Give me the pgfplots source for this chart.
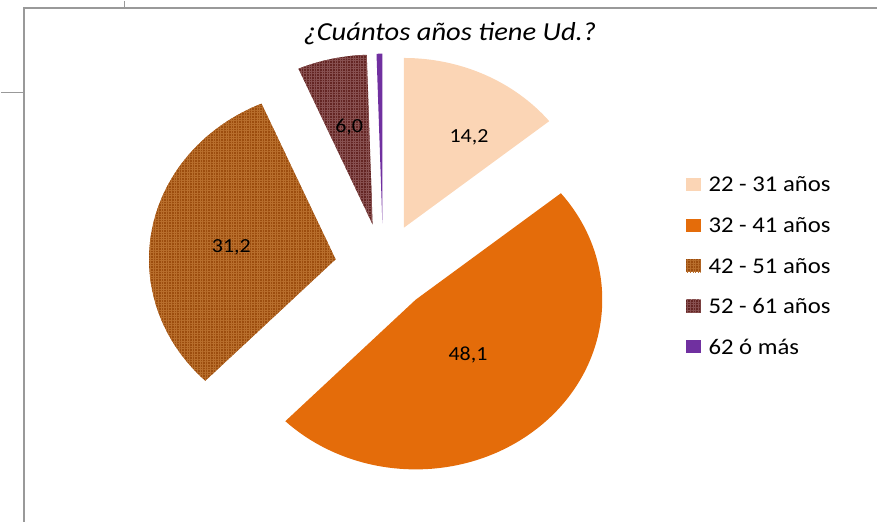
\documentclass[border=0pt]{standalone}
\usepackage{fontspec}
\setmainfont{Carlito}
\usepackage{graphicx}
\usepackage{pgfplots}
\usepackage{pgfplotstable}
\pgfplotsset{compat=1.18}
\usetikzlibrary{patterns.meta}

\definecolor{slA}{HTML}{FBD5B5}
\definecolor{slB}{HTML}{E46C0A}
\definecolor{slC}{HTML}{9C4D0E}
\definecolor{slD}{HTML}{632523}
\definecolor{slE}{HTML}{7030A0}
\definecolor{patC}{HTML}{B86E2C}
\definecolor{patD}{HTML}{875050}
\definecolor{framegray}{HTML}{999999}

% share of respondents by age band (percent); lx/ly = label position
\pgfplotstableread[col sep=semicolon]{
name;value;fc;pc;lx;ly;show
22 - 31 años;14.2;slA;none;426.4;385;1
32 - 41 años;48.1;slB;none;425.5;167;1
42 - 51 años;31.2;slC;patC;210;275;1
52 - 61 años;6.0;slD;patD;317.3;395;1
62 ó más;0.5;slE;none;0;0;0
}\agedata

% pie layout (axis units = bp)
\def\cx{348.2}\def\cy{255}\def\R{170}\def\dd{44}
\def\nonestr{none}

\begin{document}
\scalebox{1.1}[1]{%
\begin{tikzpicture}
\begin{axis}[x=1bp, y=1bp, xmin=0, xmax=798.2, ymin=0, ymax=522,
  hide axis, clip=false, scale only axis]
\path (axis cs:0,0) rectangle (axis cs:798.2,522);

% frame lines
\draw[framegray, line width=1.6bp] (axis cs:20.9,0) -- (axis cs:20.9,515) -- (axis cs:798.2,515);
\draw[framegray, line width=1.6bp] (axis cs:112.7,515) -- (axis cs:112.7,522);
\draw[framegray, line width=1.6bp] (axis cs:0,430) -- (axis cs:20.9,430);

\node[font=\fontsize{26bp}{30bp}\selectfont\itshape] at (axis cs:409,489) {¿Cuántos años tiene Ud.?};

\pgfplotstablegetrowsof{\agedata}
\pgfmathtruncatemacro\lastrow{\pgfplotsretval-1}
\def\angA{90}
\pgfplotsforeachungrouped \i in {0,...,\lastrow}{%
  \pgfplotstablegetelem{\i}{value}\of\agedata \edef\val{\pgfplotsretval}%
  \pgfplotstablegetelem{\i}{fc}\of\agedata \edef\fc{\pgfplotsretval}%
  \pgfplotstablegetelem{\i}{pc}\of\agedata \edef\pc{\pgfplotsretval}%
  \pgfplotstablegetelem{\i}{lx}\of\agedata \edef\lx{\pgfplotsretval}%
  \pgfplotstablegetelem{\i}{ly}\of\agedata \edef\ly{\pgfplotsretval}%
  \pgfplotstablegetelem{\i}{show}\of\agedata \edef\shw{\pgfplotsretval}%
  \pgfplotstablegetelem{\i}{name}\of\agedata \edef\nm{\pgfplotsretval}%
  \pgfmathsetmacro\angB{\angA-3.6*\val}%
  \pgfmathsetmacro\md{(\angA+\angB)/2}%
  \pgfmathsetmacro\ax{\cx+\dd*cos(\md)}%
  \pgfmathsetmacro\ay{\cy+\dd*sin(\md)}%
  \ifx\pc\nonestr
    \edef\slice{\noexpand\fill[\fc] (axis cs:\ax,\ay) -- ++(\angA:\R bp)
      arc[start angle=\angA, end angle=\angB, radius=\R bp] -- cycle;}%
  \else
    \edef\slice{\noexpand\fill[\fc, postaction={pattern={Hatch[angle=0,distance=2.6bp,line width=0.45bp]}, pattern color=\pc}]
      (axis cs:\ax,\ay) -- ++(\angA:\R bp)
      arc[start angle=\angA, end angle=\angB, radius=\R bp] -- cycle;}%
  \fi
  \slice
  \ifnum\shw=1
    \edef\lab{\noexpand\node[font=\noexpand\fontsize{20bp}{24bp}\noexpand\selectfont] at (axis cs:\lx,\ly)
      {\noexpand\pgfmathprintnumber[fixed,fixed zerofill,precision=1,use comma,assume math mode=true]{\val}};}%
    \lab
  \fi
  % legend entry
  \pgfmathsetmacro\ly{338-40.7*\i}%
  \ifx\pc\nonestr
    \edef\sq{\noexpand\fill[\fc] (axis cs:624.5,\ly-6.5) rectangle (axis cs:637.5,\ly+6.5);}%
  \else
    \edef\sq{\noexpand\fill[\fc, postaction={pattern={Hatch[angle=0,distance=2.6bp,line width=0.45bp]}, pattern color=\pc}]
      (axis cs:624.5,\ly-6.5) rectangle (axis cs:637.5,\ly+6.5);}%
  \fi
  \sq
  \edef\lt{\noexpand\node[anchor=west, inner sep=0pt, font=\noexpand\fontsize{22.5bp}{27bp}\noexpand\selectfont] at (axis cs:644.5,\ly) {\nm};}%
  \lt
  \let\angA\angB
}
\end{axis}
\end{tikzpicture}}
\end{document}
